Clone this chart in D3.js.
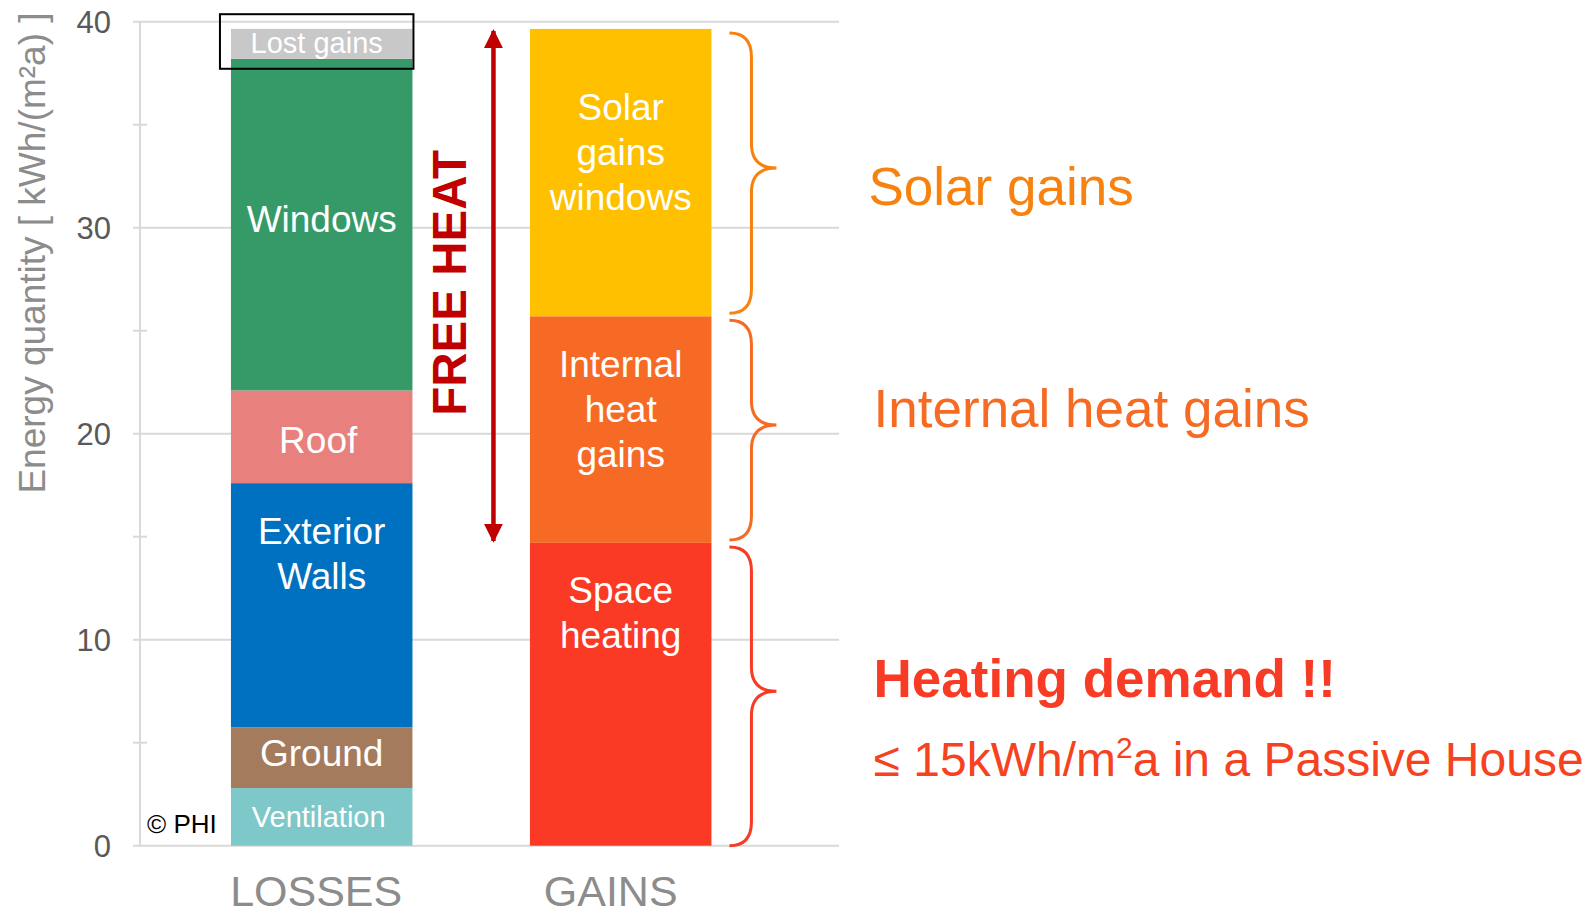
<!DOCTYPE html>
<html>
<head>
<meta charset="utf-8">
<script src="https://cdn.jsdelivr.net/npm/d3@7"></script>
<style>
  body { margin: 0; background: #fff; }
  text { font-family: "Liberation Sans", Arial, sans-serif; }
</style>
</head>
<body>
<div id="chart"></div>
<script>
// Data (kWh/(m²a))
const categories = ['LOSSES', 'GAINS'];
const lossLabels = ['Ventilation', 'Ground', 'Exterior\nWalls', 'Roof', 'Windows', 'Lost gains'];
const lossValues = [2.8, 2.95, 11.85, 4.5, 16.1, 1.45];
const gainLabels = ['Space\nheating', 'Internal\nheat\ngains', 'Solar\ngains\nwindows'];
const gainValues = [14.7, 11.0, 13.95];
const yTicks = [0, 10, 20, 30, 40];
const yMinorTicks = [5, 15, 25, 35];
const braceLabels = ['Heating demand !!', 'Internal heat gains', 'Solar gains'];

// colours / label tweaks (kept apart from the data)
const lossColors = ['#7FC8C9', '#A57B5D', '#0070C0', '#E8817D', '#359A67', '#C8C8C8'];
const lossFont = [29, 37, 37, 37, 37, 29];
const lossDy = [0, -5, -52, 3, -6, -1];
const lossDx = [-3, 0, 0, -3.5, 0, -5];
const gainColors = ['#FA3A24', '#F76A25', '#FFC000'];
const gainDy = [-82, -21, -21];
const braceColors = ['#F83B24', '#F56B24', '#F7820F'];
const catDx = [-5.5, -10];

const width = 1589, height = 917;

const svg = d3.select('#chart').append('svg')
    .attr('width', width)
    .attr('height', height);

const y = d3.scaleLinear().domain([0, 40]).range([845.7, 21.7]);
const x = d3.scaleBand().domain(categories)
    .range([172.2, 770.2])
    .paddingInner(0.393)
    .paddingOuter(0.1965);

// gridlines and axis
const axisX = 140;
svg.selectAll('line.grid')
    .data(yTicks)
    .enter().append('line')
    .attr('x1', axisX - 7).attr('x2', 839)
    .attr('y1', d => y(d)).attr('y2', d => y(d))
    .attr('stroke', '#D9D9D9').attr('stroke-width', 2);

svg.selectAll('line.minor')
    .data(yMinorTicks)
    .enter().append('line')
    .attr('x1', axisX - 7).attr('x2', axisX + 7)
    .attr('y1', d => y(d)).attr('y2', d => y(d))
    .attr('stroke', '#D9D9D9').attr('stroke-width', 2);

svg.append('line')
    .attr('x1', axisX).attr('x2', axisX)
    .attr('y1', y(40)).attr('y2', y(0))
    .attr('stroke', '#D9D9D9').attr('stroke-width', 2);

svg.selectAll('text.ytick')
    .data(yTicks)
    .enter().append('text')
    .attr('x', 111)
    .attr('y', d => y(d))
    .attr('dy', '0.36em')
    .attr('text-anchor', 'end')
    .attr('font-size', 31)
    .attr('fill', '#595959')
    .text(d => d);

svg.append('text')
    .attr('transform', `translate(45, ${253}) rotate(-90)`)
    .attr('text-anchor', 'middle')
    .attr('font-size', 37)
    .attr('fill', '#8C8C8C')
    .text('Energy quantity [ kWh/(m²a) ]');

// stacked segments
function stack(values) {
    let acc = 0;
    return values.map(v => { const s = { y0: acc, y1: acc + v }; acc += v; return s; });
}

function drawBar(cat, values, labels, colors, fonts, dys, dxs) {
    const segs = stack(values);
    const bx = x(cat), bw = x.bandwidth();
    svg.selectAll(null)
        .data(segs)
        .enter().append('rect')
        .attr('x', bx)
        .attr('width', bw)
        .attr('y', d => y(d.y1))
        .attr('height', d => y(d.y0) - y(d.y1))
        .attr('fill', (d, i) => colors[i]);

    segs.forEach((s, i) => {
        const lines = labels[i].split('\n');
        const fs = fonts[i];
        const lh = 45;
        const cy = (y(s.y0) + y(s.y1)) / 2;
        const first = cy - (lines.length - 1) * lh / 2 + 0.35 * fs + dys[i];
        const t = svg.append('text')
            .attr('text-anchor', 'middle')
            .attr('font-size', fs)
            .attr('fill', '#fff');
        lines.forEach((ln, k) => {
            t.append('tspan')
                .attr('x', bx + bw / 2 + dxs[i])
                .attr('y', first + k * lh)
                .text(ln);
        });
    });
    return segs;
}

const lossSegs = drawBar('LOSSES', lossValues, lossLabels, lossColors, lossFont, lossDy, lossDx);
const gainSegs = drawBar('GAINS', gainValues, gainLabels, gainColors, [37, 37, 37], gainDy, [0, 0, 0]);

// box round the lost gains
const lost = lossSegs[lossSegs.length - 1];
svg.append('rect')
    .attr('x', x('LOSSES') - 11)
    .attr('y', y(40) - 7.5)
    .attr('width', x.bandwidth() + 12)
    .attr('height', y(lost.y0) + 10 - (y(40) - 7.5))
    .attr('fill', 'none')
    .attr('stroke', '#000')
    .attr('stroke-width', 2);

// category labels
svg.selectAll('text.cat')
    .data(categories)
    .enter().append('text')
    .attr('x', (d, i) => x(d) + x.bandwidth() / 2 + catDx[i])
    .attr('y', 906)
    .attr('text-anchor', 'middle')
    .attr('font-size', 43)
    .attr('fill', '#8C8C8C')
    .text(d => d);

svg.append('text')
    .attr('x', 147).attr('y', 833)
    .attr('font-size', 26)
    .attr('fill', '#000')
    .text('© PHI');

// FREE HEAT arrow over solar + internal gains
const freeLo = gainSegs[1].y0, freeHi = gainSegs[2].y1;
const ax = x('GAINS') - 36.5;
const defs = svg.append('defs');
defs.append('marker')
    .attr('id', 'head')
    .attr('viewBox', '0 0 10 10')
    .attr('refX', 9).attr('refY', 5)
    .attr('markerWidth', 4.2).attr('markerHeight', 4.2)
    .attr('markerUnits', 'strokeWidth')
    .attr('orient', 'auto-start-reverse')
    .append('path').attr('d', 'M0,0 L10,5 L0,10 z').attr('fill', '#C00000');

svg.append('line')
    .attr('x1', ax).attr('x2', ax)
    .attr('y1', y(freeHi) + 2).attr('y2', y(freeLo) - 2)
    .attr('stroke', '#C00000').attr('stroke-width', 4.5)
    .attr('marker-start', 'url(#head)')
    .attr('marker-end', 'url(#head)');

svg.append('text')
    .attr('transform', `translate(${ax - 27}, ${y((freeLo + freeHi) / 2) - 3}) rotate(-90)`)
    .attr('text-anchor', 'middle')
    .attr('font-size', 47.5)
    .attr('font-weight', 'bold')
    .attr('fill', '#C00000')
    .text('FREE HEAT');

// braces to the right of the gains bar
const gx = x('GAINS') + x.bandwidth();
const x0 = gx + 18, xv = gx + 40, xt = gx + 65, r = 24;
function bracePath(yT, yB) {
    const yM = (yT + yB) / 2 - 5;
    return `M${x0},${yT} Q${xv},${yT} ${xv},${yT + r} L${xv},${yM - r} ` +
        `Q${xv},${yM} ${xt},${yM} Q${xv},${yM} ${xv},${yM + r} ` +
        `L${xv},${yB - r} Q${xv},${yB} ${x0},${yB}`;
}
gainSegs.forEach((s, i) => {
    svg.append('path')
        .attr('d', bracePath(y(s.y1) + 4, y(s.y0) - (i === 0 ? 0 : 3)))
        .attr('fill', 'none')
        .attr('stroke', braceColors[i])
        .attr('stroke-width', 3);
});

const braceBaselines = [697, 427, 205];
const braceX = [873.6, 873.6, 868.5];
braceLabels.forEach((lab, i) => {
    svg.append('text')
        .attr('x', braceX[i]).attr('y', braceBaselines[i])
        .attr('font-size', 53)
        .attr('font-weight', i === 0 ? 'bold' : 'normal')
        .attr('fill', braceColors[i])
        .text(lab);
});

const note = svg.append('text')
    .attr('x', 873.6).attr('y', 776)
    .attr('font-size', 48)
    .attr('fill', '#F6421F');
note.append('tspan').text('≤ 15kWh/m');
note.append('tspan').attr('dy', -18).attr('font-size', 30).text('2');
note.append('tspan').attr('dy', 18).text('a in a Passive House');
</script>
</body>
</html>
